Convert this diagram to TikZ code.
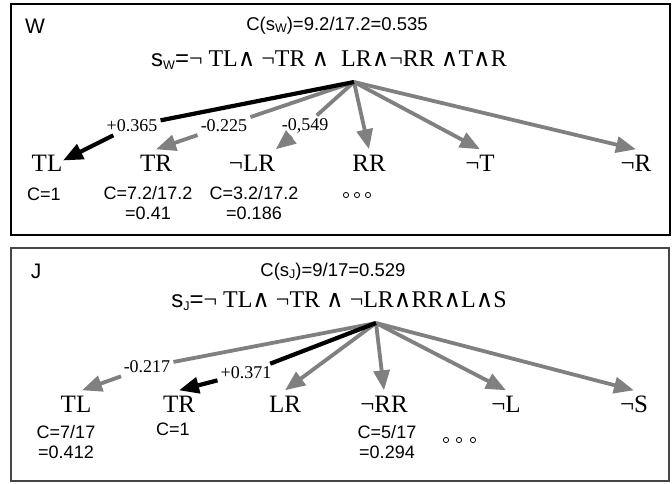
\documentclass[tikz,border=0pt]{standalone}
\usepackage{fontspec}
\setmainfont{Liberation Serif}
\setsansfont{Liberation Sans}
\newfontfamily\wedgefont{DejaVu Serif}
\usepackage{xcolor}
\usepackage{tikz}
\usetikzlibrary{arrows.meta}

\newcommand\andsym{{\wedgefont ∧}}
\newcommand\subsc[1]{\raisebox{-0.3ex}{\fontsize{12.5}{12.5}\selectfont #1}}

\begin{document}
\begin{tikzpicture}[x=1pt,y=-1pt,
	lit/.style={font=\fontsize{25}{28}\selectfont, anchor=base, text height=21pt, text depth=0pt, inner sep=0.5pt},
	frm/.style={font=\fontsize{24}{28}\selectfont, anchor=base, inner sep=0pt},
	cval/.style={font=\sffamily\fontsize{18}{19.5}\selectfont, anchor=base, align=center, inner sep=0pt},
	ttl/.style={font=\sffamily\fontsize{18.5}{20}\selectfont, anchor=base, inner sep=0pt},
	wlab/.style={font=\fontsize{18}{20}\selectfont, inner sep=3pt},
	garr/.style={draw=arrgray, line width=3.8pt, -{Triangle[length=20pt,width=16pt]}},
	barr/.style={draw=black, line width=4.2pt, -{Triangle[length=20pt,width=16pt]}}]
				% 颜色
				\definecolor{arrgray}{RGB}{128,128,128}
				\definecolor{boxgray}{RGB}{70,70,70}
				\useasboundingbox (0,0) rectangle (672,483);
				
				% 上框 W
				\draw[line width=1.2pt] (11,4) rectangle (670,235);
				\node[ttl, font=\sffamily\fontsize{21}{24}\selectfont] (W) at (35,33) {W};
				\node[ttl] (cW) at (337,30) {C(s\subsc{W})=9.2/17.2=0.535};
				\node[frm] (sW) at (329,66) {\textsf{s\subsc{W}=}¬ TL\andsym\ ¬TR \andsym\ \ LR\andsym¬RR \andsym T\andsym R};
				\coordinate (oW) at (354,82);
				
				% 上框文字
				\node[lit] (TLw) at (47,171) {TL};
				\node[lit] (TRw) at (156,171) {TR};
				\node[lit] (nLRw) at (252,171) {¬LR};
				\node[lit] (RRw) at (369,171) {RR};
				\node[lit] (nTw) at (480,171) {¬T};
				\node[lit] (nRw) at (636,171) {¬R};
				\node[wlab] (eTLw) at (132,126) {+0.365};
				\node[wlab] (eTRw) at (224,126) {-0.225};
				\node[wlab] (eLRw) at (305,126) {-0,549};
				
				% 上框箭头
				\draw[garr] (oW) -- (eTRw) -- (TRw.north);
				\draw[garr] (oW) -- (eLRw) -- (nLRw.north east);
				\foreach \n in {RRw,nTw,nRw}
				\draw[garr] (oW) -- (\n.north);
				\draw[barr] (oW) -- (eTLw) -- (TLw.east);
				
				% 上框 C 值 (base 在末行)
				\node[cval] (cTLw) at (44,200) {C=1};
				\node[cval] (cTRw) at (148,219) {C=7.2/17.2\\=0.41};
				\node[cval] (cLRw) at (254,219) {C=3.2/17.2\\=0.186};
				\foreach \x in {346,357,368}
				\draw[line width=0.8pt] (\x,195) circle (2.6pt);
				
				% 下框 J
				\draw[line width=2pt, boxgray] (11,248) rectangle (669,481);
				\node[ttl, font=\sffamily\fontsize{21}{24}\selectfont] (J) at (36,278) {J};
				\node[ttl] (cJ) at (333,276) {C(s\subsc{J})=9/17=0.529};
				\node[frm] (sJ) at (339,307) {\textsf{s\subsc{J}=}¬ TL\andsym\ ¬TR \andsym\ ¬LR\andsym RR\andsym L\andsym S};
				\coordinate (oJ) at (376,323);
				
				% 下框文字
				\node[lit] (TLj) at (76,412) {TL};
				\node[lit] (TRj) at (179,412) {TR};
				\node[lit] (LRj) at (285,412) {LR};
				\node[lit] (nRRj) at (384,412) {¬RR};
				\node[lit] (nLj) at (506,412) {¬L};
				\node[lit] (nSj) at (634,412) {¬S};
				\node[wlab] (eTLj) at (147,367) {-0.217};
				\node[wlab] (eTRj) at (246,373) {+0.371};
				
				% 下框箭头
				\draw[garr] (oJ) -- (eTLj) -- ([xshift=6pt]TLj.north);
				\foreach \n in {LRj,nRRj,nLj,nSj}
				\draw[garr] (oJ) -- (\n.north);
				\draw[barr] (oJ) -- (eTRj) -- (TRj.north);
				
				% 下框 C 值
				\node[cval] (cTLj) at (66,458) {C=7/17\\=0.412};
				\node[cval] (cTRj) at (173,435) {C=1};
				\node[cval] (cRRj) at (387,458) {C=5/17\\=0.294};
				\foreach \x in {446,459,473}
				\draw[line width=0.8pt] (\x,440) circle (2.6pt);
				
\end{tikzpicture}
\end{document}
